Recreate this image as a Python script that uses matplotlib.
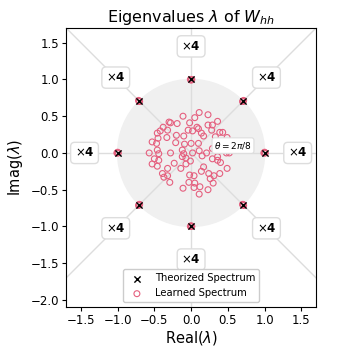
import matplotlib
matplotlib.use('Agg')
import matplotlib.pyplot as plt
from matplotlib.patches import Circle

# theorized eigenvalues: 8th roots of unity, each with multiplicity 4
theory_re = [1.0, 0.707, 0.0, -0.707, -1.0, -0.707, 0.0, 0.707]
theory_im = [0.0, 0.707, 1.0, 0.707, 0.0, -0.707, -1.0, -0.707]
multiplicity = ['4'] * 8

# learned eigenvalues (bulk inside radius ~0.55)
learned_re = [
    -0.11, 0.05, 0.11, 0.23, -0.30, -0.28, -0.19, -0.02, 0.08, 0.10, 0.29, 0.23, 0.36,
    -0.38, -0.42, -0.32, -0.04, 0.02, 0.14, 0.28, 0.39, 0.43,
    -0.46, -0.45, -0.20, -0.10, 0.17, 0.33, 0.49,
    -0.53, -0.47, -0.33, -0.21, -0.09, 0.00, 0.10, 0.35,
    -0.57, -0.46, -0.44, -0.28, -0.12, -0.10, 0.02, 0.11, 0.21, 0.29, 0.48, 0.52,
    -0.50, -0.44, -0.12, -0.07, -0.01, 0.15, 0.29, 0.36, 0.40,
    -0.53, -0.46, -0.32, -0.23, -0.14, -0.07, 0.14, 0.17, 0.36, 0.49,
    -0.39, -0.32, -0.02, 0.04, 0.24, 0.31, -0.29, -0.37, -0.03, 0.05, 0.26, 0.30, 0.39,
    -0.11, 0.04, 0.12, 0.23, 0.11,
]
learned_im = [
    0.50, 0.48, 0.55, 0.52, 0.42, 0.41, 0.40, 0.41, 0.35, 0.33, 0.38, 0.38, 0.43,
    0.35, 0.30, 0.31, 0.31, 0.30, 0.27, 0.31, 0.28, 0.28,
    0.27, 0.20, 0.24, 0.23, 0.23, 0.22, 0.21,
    0.15, 0.13, 0.21, 0.14, 0.12, 0.13, 0.13, 0.14,
    0.00, 0.04, -0.01, 0.00, 0.04, -0.01, 0.00, 0.03, 0.00, 0.06, 0.00, 0.00,
    -0.08, -0.10, -0.05, -0.07, -0.11, -0.04, -0.08, -0.05, -0.13,
    -0.15, -0.18, -0.21, -0.14, -0.21, -0.15, -0.25, -0.19, -0.10, -0.21,
    -0.28, -0.31, -0.30, -0.31, -0.28, -0.31, -0.40, -0.33, -0.40, -0.41, -0.35, -0.41, -0.28,
    -0.48, -0.47, -0.46, -0.50, -0.56,
]
# learned eigenvalues that sit on the unit circle (4 near each theorized one)
ring_re = [1.0, 0.99, 1.01, 1.0, 0.707, 0.70, 0.715, 0.707, 0.0, -0.01, 0.01, 0.0,
           -0.707, -0.70, -0.715, -0.707, -1.0, -0.99, -1.01, -1.0,
           -0.707, -0.70, -0.715, -0.707, 0.0, -0.01, 0.01, 0.0, 0.707, 0.70, 0.715, 0.707]
ring_im = [0.0, 0.0, 0.0, 0.01, 0.707, 0.70, 0.715, 0.70, 1.0, 1.0, 1.0, 0.99,
           0.707, 0.70, 0.715, 0.70, 0.0, 0.0, 0.0, 0.01,
           -0.707, -0.70, -0.715, -0.70, -1.0, -1.0, -1.0, -0.99, -0.707, -0.70, -0.715, -0.70]

pink = '#e5607f'

fig = plt.figure(figsize=(3.5, 3.5), dpi=100)
ax = fig.add_axes([0.189, 0.121, 0.714, 0.80])

ax.add_patch(Circle((0, 0), 1.0, color='#f0f0f0', zorder=0))
for x, y in zip(theory_re, theory_im):
    ax.plot([0, 3 * x], [0, 3 * y], color='#dddddd', lw=1, zorder=1)

ax.scatter(ring_re, ring_im, s=18, facecolors='none', edgecolors=pink, linewidths=0.8, zorder=2)
ax.scatter(learned_re, learned_im, s=18, facecolors='none', edgecolors=pink, linewidths=0.8,
           zorder=2, label='Learned Spectrum')
ax.scatter(theory_re, theory_im, s=20, marker='x', color='black', linewidths=1.0, zorder=3,
           label='Theorized Spectrum')

box = dict(boxstyle='round,pad=0.35', fc='white', ec='#dddddd', lw=1)
for x, y, m in zip(theory_re, theory_im, multiplicity):
    ax.text(1.45 * x, 1.45 * y, r'$\times\mathbf{' + m + '}$', fontsize=8.5,
            ha='center', va='center', bbox=box, zorder=4)
ax.text(0.57, 0.10, r'$\theta = 2\pi/8$', fontsize=6.5, ha='center', va='center',
        bbox=dict(boxstyle='round,pad=0.25', fc='white', ec='#dddddd', lw=0.8), zorder=4)

ax.set_xlim(-1.7, 1.7)
ax.set_ylim(-2.1, 1.7)
ax.set_aspect('equal')
ax.set_xticks([-1.5, -1.0, -0.5, 0.0, 0.5, 1.0, 1.5])
ax.set_yticks([-2.0, -1.5, -1.0, -0.5, 0.0, 0.5, 1.0, 1.5])
ax.tick_params(labelsize=8.5, length=3, pad=2)
ax.set_xlabel(r'Real($\lambda$)', fontsize=10.5, labelpad=1)
ax.set_ylabel(r'Imag($\lambda$)', fontsize=10.5, labelpad=4)
ax.set_title(r'Eigenvalues $\lambda$ of $W_{hh}$', fontsize=11.5, pad=4)

handles, labels = ax.get_legend_handles_labels()
ax.legend(handles[::-1], labels[::-1], loc='lower center', fontsize=7.2, framealpha=1,
          handletextpad=0.8, borderpad=0.4)

fig.savefig('out.png', dpi=100)
